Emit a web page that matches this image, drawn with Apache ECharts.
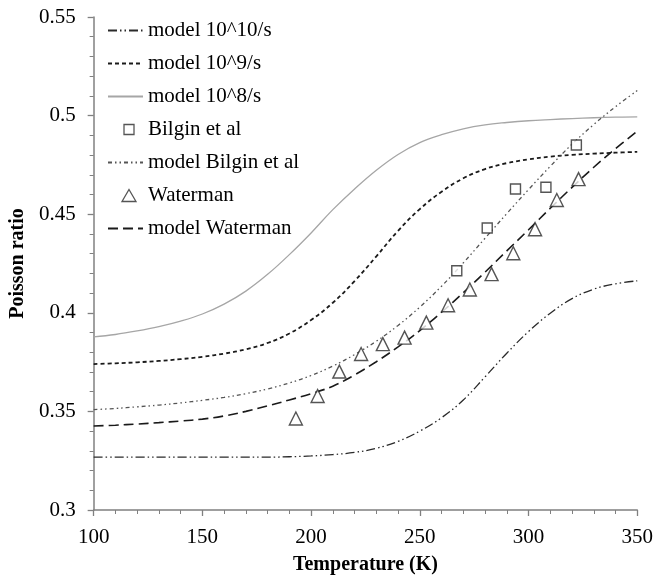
<!DOCTYPE html>
<html>
<head>
<meta charset="utf-8">
<script src="https://cdn.jsdelivr.net/npm/echarts@6/dist/echarts.min.js"></script>
<style>
  html, body { margin: 0; padding: 0; background: #fff; }
  #chart { width: 656px; height: 580px; }
</style>
</head>
<body>
<div id="chart"></div>
<script>
// temperatures (K) at which the model curves were read
const modelT = [100, 110, 120, 130, 140, 150, 160, 170, 180, 190, 200, 210, 220,
  230, 240, 250, 260, 270, 280, 290, 300, 310, 320, 330, 340, 350]

const model1e10 = [0.3268, 0.3268, 0.3268, 0.3268, 0.3268, 0.3268, 0.3268, 0.3268, 0.3268,
  0.3270, 0.3274, 0.3281, 0.3292, 0.3313, 0.3348, 0.3400, 0.3468, 0.3558, 0.3675, 0.3795,
  0.3905, 0.3998, 0.4072, 0.4120, 0.4147, 0.4162]
const model1e9 = [0.3740, 0.3744, 0.3749, 0.3756, 0.3765, 0.3777, 0.3793, 0.3815, 0.3847,
  0.3895, 0.3963, 0.4051, 0.4161, 0.4286, 0.4416, 0.4526, 0.4614, 0.4682, 0.4729, 0.4759,
  0.4778, 0.4792, 0.4801, 0.4807, 0.4812, 0.4816]
const model1e8 = [0.3878, 0.3890, 0.3908, 0.3930, 0.3958, 0.3994, 0.4044, 0.4110, 0.4195,
  0.4295, 0.4405, 0.4523, 0.4628, 0.4723, 0.4803, 0.4863, 0.4903, 0.4933, 0.4953, 0.4965,
  0.4974, 0.4980, 0.4985, 0.4989, 0.4992, 0.4994]
const modelBilgin = [0.3509, 0.3515, 0.3523, 0.3532, 0.3543, 0.3556, 0.3571, 0.3590, 0.3614,
  0.3644, 0.3682, 0.3730, 0.3788, 0.3856, 0.3936, 0.4029, 0.4135, 0.4253, 0.4378, 0.4503,
  0.4625, 0.4743, 0.4855, 0.4955, 0.5045, 0.5127]
const modelWaterman = [0.3426, 0.3430, 0.3436, 0.3443, 0.3451, 0.3461, 0.3477, 0.3500, 0.3528,
  0.3558, 0.3590, 0.3628, 0.3685, 0.3752, 0.3827, 0.3910, 0.4003, 0.4102, 0.4206, 0.4314,
  0.4421, 0.4530, 0.4636, 0.4738, 0.4832, 0.4921]

// measured points
const bilginT = [267, 281, 294, 308, 322]
const bilginV = [0.4213, 0.4430, 0.4628, 0.4637, 0.4851]
const watermanT = [193, 203, 213, 223, 233, 243, 253, 263, 273, 283, 293, 303, 313, 323]
const watermanV = [0.3464, 0.3578, 0.3702, 0.3791, 0.3841, 0.3874, 0.3950, 0.4038, 0.4118,
  0.4196, 0.4302, 0.4424, 0.4572, 0.4678]

const xTicks = { min: 100, max: 350, interval: 50 }
const yTicks = { min: 0.3, max: 0.55, interval: 0.05 }

const serif = "'Liberation Serif', 'Times New Roman', serif"
const axisGrey = '#808080'
const markStroke = '#2a2a2a'

function pairs(xs, ys) {
  return xs.map((x, i) => [x, ys[i]])
}

function modelLine(name, values, color, width, dash) {
  return {
    name,
    type: 'line',
    data: pairs(modelT, values),
    symbol: 'none',
    smooth: 0.4,
    lineStyle: { color, width, type: dash },
    itemStyle: { color },
    z: 2,
  }
}

function points(name, xs, ys, symbol, size) {
  return {
    name,
    type: 'scatter',
    data: pairs(xs, ys),
    symbol,
    symbolSize: size,
    itemStyle: { color: '#fff', borderColor: markStroke, borderWidth: 1.4 },
    z: 3,
  }
}

// legend: line entries show only the dashed line, point entries a small symbol
const hideDot = { opacity: 0 }
const markLegendStyle = { color: '#fff', borderColor: markStroke, borderWidth: 1.3 }
const legendItems = [
  { name: 'model 10^10/s', itemStyle: hideDot },
  { name: 'model 10^9/s', itemStyle: hideDot },
  { name: 'model 10^8/s', itemStyle: hideDot },
  { name: 'Bilgin et al', icon: 'path://M0,0M35,14M16,2h10v10h-10z', itemStyle: markLegendStyle },
  { name: 'model Bilgin et al', itemStyle: hideDot },
  { name: 'Waterman', icon: 'path://M0,0M35,14M21,1L28,13L14,13z', itemStyle: markLegendStyle },
  { name: 'model Waterman', itemStyle: hideDot },
]

const chart = echarts.init(document.getElementById('chart'))

chart.setOption({
  animation: false,
  backgroundColor: '#fff',
  textStyle: { fontFamily: serif, color: '#000' },
  grid: { left: 90, right: 16, top: 17, bottom: 65 },
  legend: {
    orient: 'vertical',
    left: 102,
    top: 15,
    itemWidth: 35,
    itemHeight: 14,
    itemGap: 12,
    textStyle: { fontFamily: serif, fontSize: 21, color: '#000' },
    data: legendItems,
  },
  xAxis: {
    type: 'value',
    min: xTicks.min,
    max: xTicks.max,
    interval: xTicks.interval,
    name: 'Temperature (K)',
    nameLocation: 'middle',
    nameGap: 45,
    nameTextStyle: { fontFamily: serif, fontSize: 20, fontWeight: 'bold', color: '#000' },
    axisLine: { lineStyle: { color: axisGrey, width: 1.5 } },
    axisTick: { length: 6, lineStyle: { color: axisGrey, width: 1.3 } },
    minorTick: { show: true, splitNumber: 5, length: 4, lineStyle: { color: axisGrey } },
    splitLine: { show: false },
    axisLabel: { fontFamily: serif, fontSize: 21, color: '#000', margin: 17 },
  },
  yAxis: {
    type: 'value',
    min: yTicks.min,
    max: yTicks.max,
    interval: yTicks.interval,
    name: 'Poisson ratio',
    nameLocation: 'middle',
    nameGap: 56,
    nameTextStyle: { fontFamily: serif, fontSize: 20, fontWeight: 'bold', color: '#000' },
    axisLine: { show: true, lineStyle: { color: axisGrey, width: 1.5 } },
    axisTick: { show: true, length: 6, lineStyle: { color: axisGrey, width: 1.3 } },
    minorTick: { show: true, splitNumber: 5, length: 4, lineStyle: { color: axisGrey } },
    splitLine: { show: false },
    axisLabel: { fontFamily: serif, fontSize: 21, color: '#000', margin: 18 },
  },
  series: [
    modelLine('model 10^10/s', model1e10, '#2a2a2a', 1.3, [9, 3, 1.5, 3, 1.5, 3]),
    modelLine('model 10^9/s', model1e9, '#1a1a1a', 1.8, [4, 3]),
    modelLine('model 10^8/s', model1e8, '#a6a6a6', 1.3, 'solid'),
    points('Bilgin et al', bilginT, bilginV, 'rect', 10),
    modelLine('model Bilgin et al', modelBilgin, '#555', 1.3, [4, 3, 1.5, 3, 1.5, 3]),
    points('Waterman', watermanT, watermanV, 'triangle', 13),
    modelLine('model Waterman', modelWaterman, '#1a1a1a', 1.6, [10, 5]),
  ],
})
</script>
</body>
</html>
